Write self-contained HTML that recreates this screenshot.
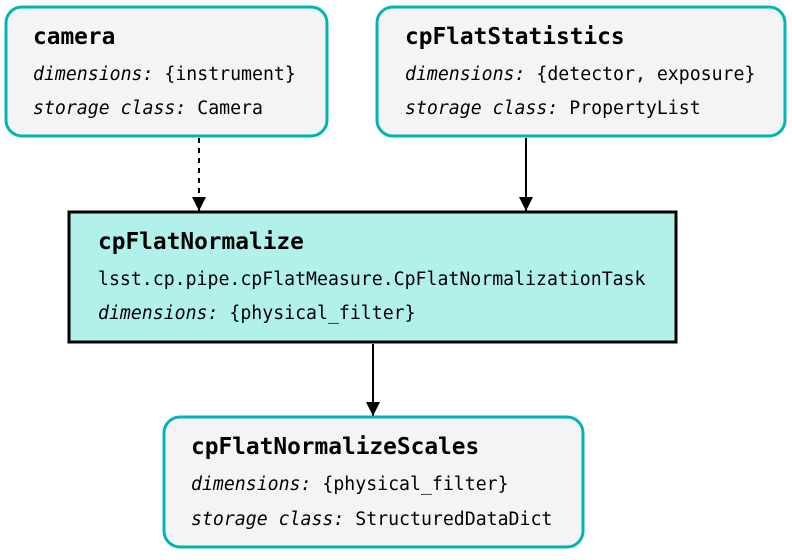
<!DOCTYPE html>
<html><head><meta charset="utf-8"><style>
html,body{margin:0;padding:0;background:#fff;}
svg text{font-family:"DejaVu Sans Mono","Liberation Mono",monospace;}
.t{font-size:22.8px;font-weight:bold;}
.b{font-size:18.2px;}
.i{font-style:italic;}
</style></head><body>
<svg width="792" height="555" viewBox="0 0 792 555" xmlns="http://www.w3.org/2000/svg">
<defs><marker id="a" markerWidth="10" markerHeight="10" refX="9" refY="5" orient="auto" markerUnits="userSpaceOnUse"><path d="M0,0 L10,5 L0,10 z" fill="#000"/></marker>
<marker id="ah" viewBox="0 0 14 24" markerWidth="14" markerHeight="24" refX="14" refY="12" orient="auto" markerUnits="userSpaceOnUse"><path d="M0,5 L14,12 L0,19 z" fill="#000"/></marker></defs>
<rect x="6" y="7" width="321" height="129" rx="16" fill="#f4f4f4" stroke="#00b4b8" stroke-width="3"/>
<text class="t" x="33" y="44">camera</text>
<text class="b" x="33" y="80"><tspan class="i">dimensions:</tspan> {instrument}</text>
<text class="b" x="33" y="114"><tspan class="i">storage class:</tspan> Camera</text>

<rect x="377" y="7" width="408" height="129" rx="16" fill="#f4f4f4" stroke="#00b4b8" stroke-width="3"/>
<text class="t" x="405" y="44">cpFlatStatistics</text>
<text class="b" x="405" y="80"><tspan class="i">dimensions:</tspan> {detector, exposure}</text>
<text class="b" x="405" y="114"><tspan class="i">storage class:</tspan> PropertyList</text>

<line x1="199" y1="138" x2="199" y2="211" stroke="#000" stroke-width="2" stroke-dasharray="5,5" marker-end="url(#ah)"/>
<line x1="526" y1="138" x2="526" y2="211" stroke="#000" stroke-width="2" marker-end="url(#ah)"/>

<rect x="69" y="212" width="607" height="130" fill="#b2f0ec" stroke="#000" stroke-width="3"/>
<text class="t" x="98" y="249">cpFlatNormalize</text>
<text class="b" x="98" y="285">lsst.cp.pipe.cpFlatMeasure.CpFlatNormalizationTask</text>
<text class="b" x="98" y="319"><tspan class="i">dimensions:</tspan> {physical_filter}</text>

<line x1="373" y1="344" x2="373" y2="416" stroke="#000" stroke-width="2" marker-end="url(#ah)"/>

<rect x="164" y="417" width="419" height="130" rx="16" fill="#f4f4f4" stroke="#00b4b8" stroke-width="3"/>
<text class="t" x="191" y="454">cpFlatNormalizeScales</text>
<text class="b" x="191" y="490"><tspan class="i">dimensions:</tspan> {physical_filter}</text>
<text class="b" x="191" y="525"><tspan class="i">storage class:</tspan> StructuredDataDict</text>
</svg>
</body></html>
